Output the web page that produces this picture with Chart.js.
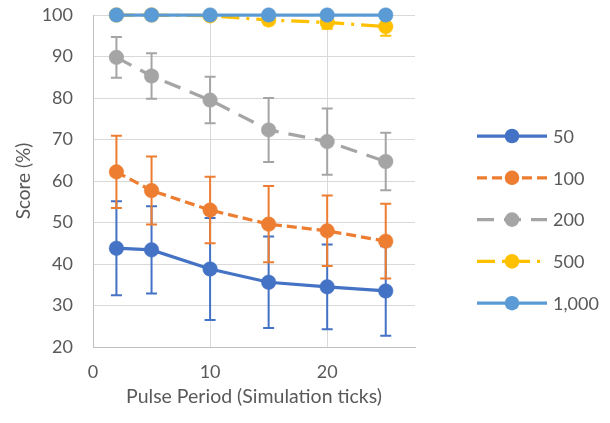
<!DOCTYPE html>
<html>
<head>
<meta charset="utf-8">
<script src="https://cdn.jsdelivr.net/npm/chart.js@4.4.1/dist/chart.umd.min.js"></script>
<style>
  html, body { margin: 0; padding: 0; background: #fff; }
  #wrap { width: 610px; height: 423px; }
</style>
</head>
<body>
<div id="wrap"><canvas id="chart" width="610" height="423"></canvas></div>
<script>
// Pulse period values (x) and score per series
const periods = [2, 5, 10, 15, 20, 25];
const seriesNames = ['50', '100', '200', '500', '1,000'];

const score50 = [43.8, 43.4, 38.8, 35.6, 34.5, 33.5];
const err50 = [11.3, 10.5, 12.3, 11.0, 10.2, 10.8];
const score100 = [62.2, 57.7, 53.0, 49.6, 48.0, 45.5];
const err100 = [8.7, 8.2, 8.0, 9.2, 8.5, 9.0];
const score200 = [89.8, 85.3, 79.5, 72.3, 69.5, 64.7];
const err200 = [4.9, 5.5, 5.6, 7.7, 8.0, 6.9];
const score500 = [100, 100, 99.8, 98.8, 98.2, 97.2];
const err500 = [0.2, 0.3, 0.5, 1.0, 1.5, 2.2];
const score1000 = [100, 100, 100, 100, 100, 100];
const err1000 = [0, 0, 0, 0, 0, 0];

const yTicks = [20, 30, 40, 50, 60, 70, 80, 90, 100];
const xTicks = [0, 10, 20];

const colors = ['#4472C4', '#ED7D31', '#A5A5A5', '#FFC000', '#5B9BD5'];
const dashes = [[], [10, 5], [17, 10], [18, 7, 3, 7], []];
const allScores = [score50, score100, score200, score500, score1000];
const allErrors = [err50, err100, err200, err500, err1000];

const TEXT = '#595959';
const FAMILY = 'Lato, "Open Sans", sans-serif';
Chart.defaults.font.family = FAMILY;
Chart.defaults.font.size = 18;
Chart.defaults.color = TEXT;

// Draw vertical error bars behind the markers
const errorBars = {
  id: 'errorBars',
  beforeDatasetsDraw(chart) {
    const { ctx, scales: { x, y } } = chart;
    ctx.save();
    chart.data.datasets.forEach((ds) => {
      ds.errors.forEach((e, j) => {
        if (!e) return;
        const px = x.getPixelForValue(periods[j]);
        const top = y.getPixelForValue(Math.min(100, ds.data[j].y + e));
        const bot = y.getPixelForValue(ds.data[j].y - e);
        ctx.strokeStyle = ds.borderColor;
        ctx.lineWidth = 2;
        ctx.beginPath();
        ctx.moveTo(px, top); ctx.lineTo(px, bot);
        ctx.moveTo(px - 5.5, top); ctx.lineTo(px + 5.5, top);
        ctx.moveTo(px - 5.5, bot); ctx.lineTo(px + 5.5, bot);
        ctx.stroke();
      });
    });
    ctx.restore();
  }
};

// Legend on the right: line sample, marker, label
const sideLegend = {
  id: 'sideLegend',
  afterDraw(chart) {
    const { ctx, chartArea } = chart;
    const x0 = chartArea.right + 62, x1 = x0 + 70, mid = (x0 + x1) / 2;
    ctx.save();
    chart.data.datasets.forEach((ds, i) => {
      const yy = 136 + i * 41.8;
      ctx.strokeStyle = ds.borderColor;
      ctx.lineWidth = ds.borderWidth;
      ctx.setLineDash(ds.borderDash);
      ctx.beginPath();
      ctx.moveTo(x0, yy); ctx.lineTo(x1, yy);
      ctx.stroke();
      ctx.setLineDash([]);
      ctx.fillStyle = ds.borderColor;
      ctx.beginPath();
      ctx.arc(mid, yy, ds.pointRadius, 0, Math.PI * 2);
      ctx.fill();
      ctx.fillStyle = TEXT;
      ctx.font = '18px ' + FAMILY;
      ctx.textBaseline = 'middle';
      ctx.fillText(ds.label, x1 + 6, yy + 1);
    });
    ctx.restore();
  }
};

const datasets = seriesNames.map((name, i) => ({
  label: name,
  data: periods.map((p, j) => ({ x: p, y: allScores[i][j] })),
  errors: allErrors[i],
  borderColor: colors[i],
  backgroundColor: colors[i],
  pointBackgroundColor: colors[i],
  pointBorderColor: colors[i],
  borderWidth: 3.25,
  borderDash: dashes[i],
  pointRadius: 7.3,
  pointBorderWidth: 0.5,
  showLine: true,
  tension: 0,
  clip: false,
  order: seriesNames.length - i
}));

new Chart(document.getElementById('chart'), {
  type: 'scatter',
  data: { datasets },
  options: {
    responsive: false,
    animation: false,
    layout: { autoPadding: false, padding: { top: 15, right: 195, left: 0, bottom: 0 } },
    plugins: { legend: { display: false }, tooltip: { enabled: false } },
    scales: {
      x: {
        type: 'linear',
        min: 0,
        max: 27.5,
        afterBuildTicks: s => { s.ticks = xTicks.map(v => ({ value: v })); },
        afterFit: s => { s.height = 76; },
        grid: { color: '#D9D9D9', lineWidth: 1, drawTicks: false },
        border: { color: '#BFBFBF', width: 1 },
        ticks: { padding: 14, color: TEXT },
        title: { display: true, text: 'Pulse Period (Simulation ticks)', color: TEXT, font: { size: 19.5 }, padding: { top: 0, bottom: 15 } }
      },
      y: {
        min: 20,
        max: 100,
        afterBuildTicks: s => { s.ticks = yTicks.map(v => ({ value: v })); },
        afterFit: s => { s.width = 93; s.paddingTop = 0; s.paddingBottom = 0; },
        grid: { color: '#D9D9D9', lineWidth: 1, drawTicks: false },
        border: { color: '#BFBFBF', width: 1 },
        ticks: { padding: 20, color: TEXT },
        title: { display: true, text: 'Score (%)', color: TEXT, font: { size: 19 }, padding: { top: 12, bottom: 0 } }
      }
    }
  },
  plugins: [errorBars, sideLegend]
});
</script>
</body>
</html>
